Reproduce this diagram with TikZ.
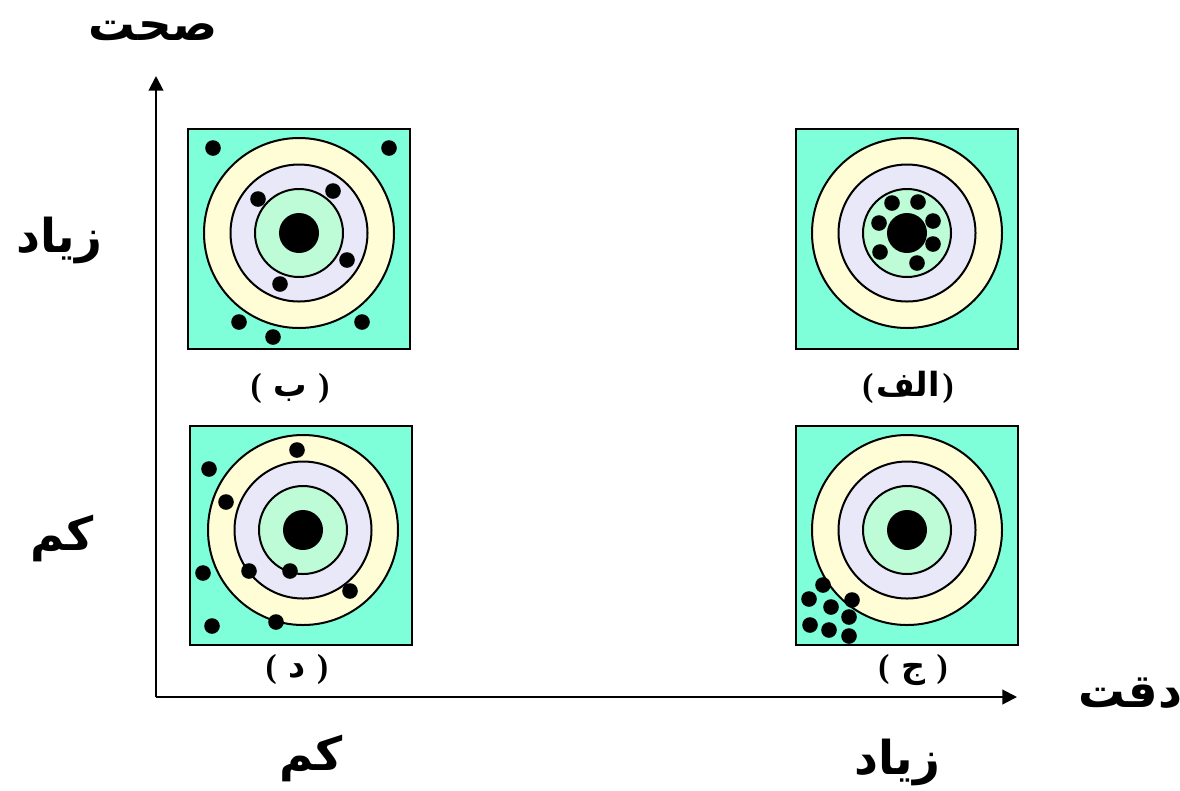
\documentclass[tikz,border=0pt]{standalone}
\usepackage{fontspec}
\newfontfamily\arabicfont[Script=Arabic]{DejaVu Sans}
\newfontfamily\parfont{Liberation Serif}
\TeXXeTstate=1
\usetikzlibrary{arrows.meta}
\definecolor{boxaqua}{HTML}{7FFFD9}
\definecolor{ringyellow}{HTML}{FFFDD6}
\definecolor{ringlav}{HTML}{E8E8F8}
\definecolor{ringgreen}{HTML}{BEFCD8}
\newcommand\lpar{{\parfont\bfseries(}}
\newcommand\rpar{{\parfont\bfseries)}}
\begin{document}
\begin{tikzpicture}[x=0.75pt,y=-0.75pt,
  panel/.style={draw=black, line width=1.5pt, fill=boxaqua},
  ring/.style={draw=black, line width=1.5pt},
  big/.style={font=\arabicfont\bfseries\fontsize{35}{40}\selectfont, inner sep=0pt, anchor=base},
  tag/.style={font=\arabicfont\bfseries\fontsize{25}{28}\selectfont, inner sep=0pt, anchor=base},
  axis/.style={line width=1.5pt, -{Triangle[length=11pt,width=11pt]}},
  target/.pic={
    \draw[ring, fill=ringyellow] (0,0) circle[radius=95];
    \draw[ring, fill=ringlav] (0,0) circle[radius=68.5];
    \draw[ring, fill=ringgreen] (0,0) circle[radius=44];
    \fill[black] (0,0) circle[radius=20];
  }
]
\useasboundingbox (0,0) rectangle (1180,790);

% axes
\coordinate (O) at (156,697);
\coordinate (ytip) at (156,76);
\coordinate (xtip) at (1017,697);
\draw[axis] (O) -- (ytip);
\draw[axis] (O) -- (xtip);

% panel B (top-left)
\draw[panel] (188,129) rectangle (410,349);
\pic at (299,233) {target};
\foreach \p in {(213,148),(389,148),(258,199),(333,191),(347,260),(280,284),(239,322),(273,337),(362,322)}
  \fill[black] \p circle[radius=7.8];

% panel A (top-right)
\draw[panel] (796,129) rectangle (1018,349);
\pic at (907,233) {target};
\foreach \p in {(892,203),(918,202),(879,223),(933,221),(933,244),(880,252),(917,263)}
  \fill[black] \p circle[radius=7.8];

% panel D (bottom-left)
\draw[panel] (190,426) rectangle (412,645);
\pic at (303,530) {target};
\foreach \p in {(297,450),(209,469),(226,502),(203,573),(249,571),(290,571),(350,591),(212,626),(276,622)}
  \fill[black] \p circle[radius=7.8];

% panel C (bottom-right)
\draw[panel] (796,426) rectangle (1018,645);
\pic at (907,530) {target};
\foreach \p in {(823,585),(809,599),(852,600),(831,607),(849,617),(810,625),(829,630),(849,636)}
  \fill[black] \p circle[radius=7.8];

% labels
\node[big] (acc) at (153,40) {\beginR صحت\endR};
\node[big] (yhigh) at (59,252) {\beginR زیاد\endR};
\node[big] (ylow) at (62,550) {\beginR کم\endR};
\node[big] (xlow) at (311,770) {\beginR کم\endR};
\node[big] (xhigh) at (897,774) {\beginR زیاد\endR};
\node[big] (prec) at (1130,707) {\beginR دقت\endR};

\node[tag] (lb) at (290,396) {\lpar\ ب \rpar};
\node[tag] (la) at (908,396) {\lpar\kern2pt\beginR الف\endR\kern2pt\rpar};
\node[tag] (ld) at (297,677) {\lpar\ د \rpar};
\node[tag] (lc) at (913,677) {\lpar\ ج \rpar};
\end{tikzpicture}
\end{document}
